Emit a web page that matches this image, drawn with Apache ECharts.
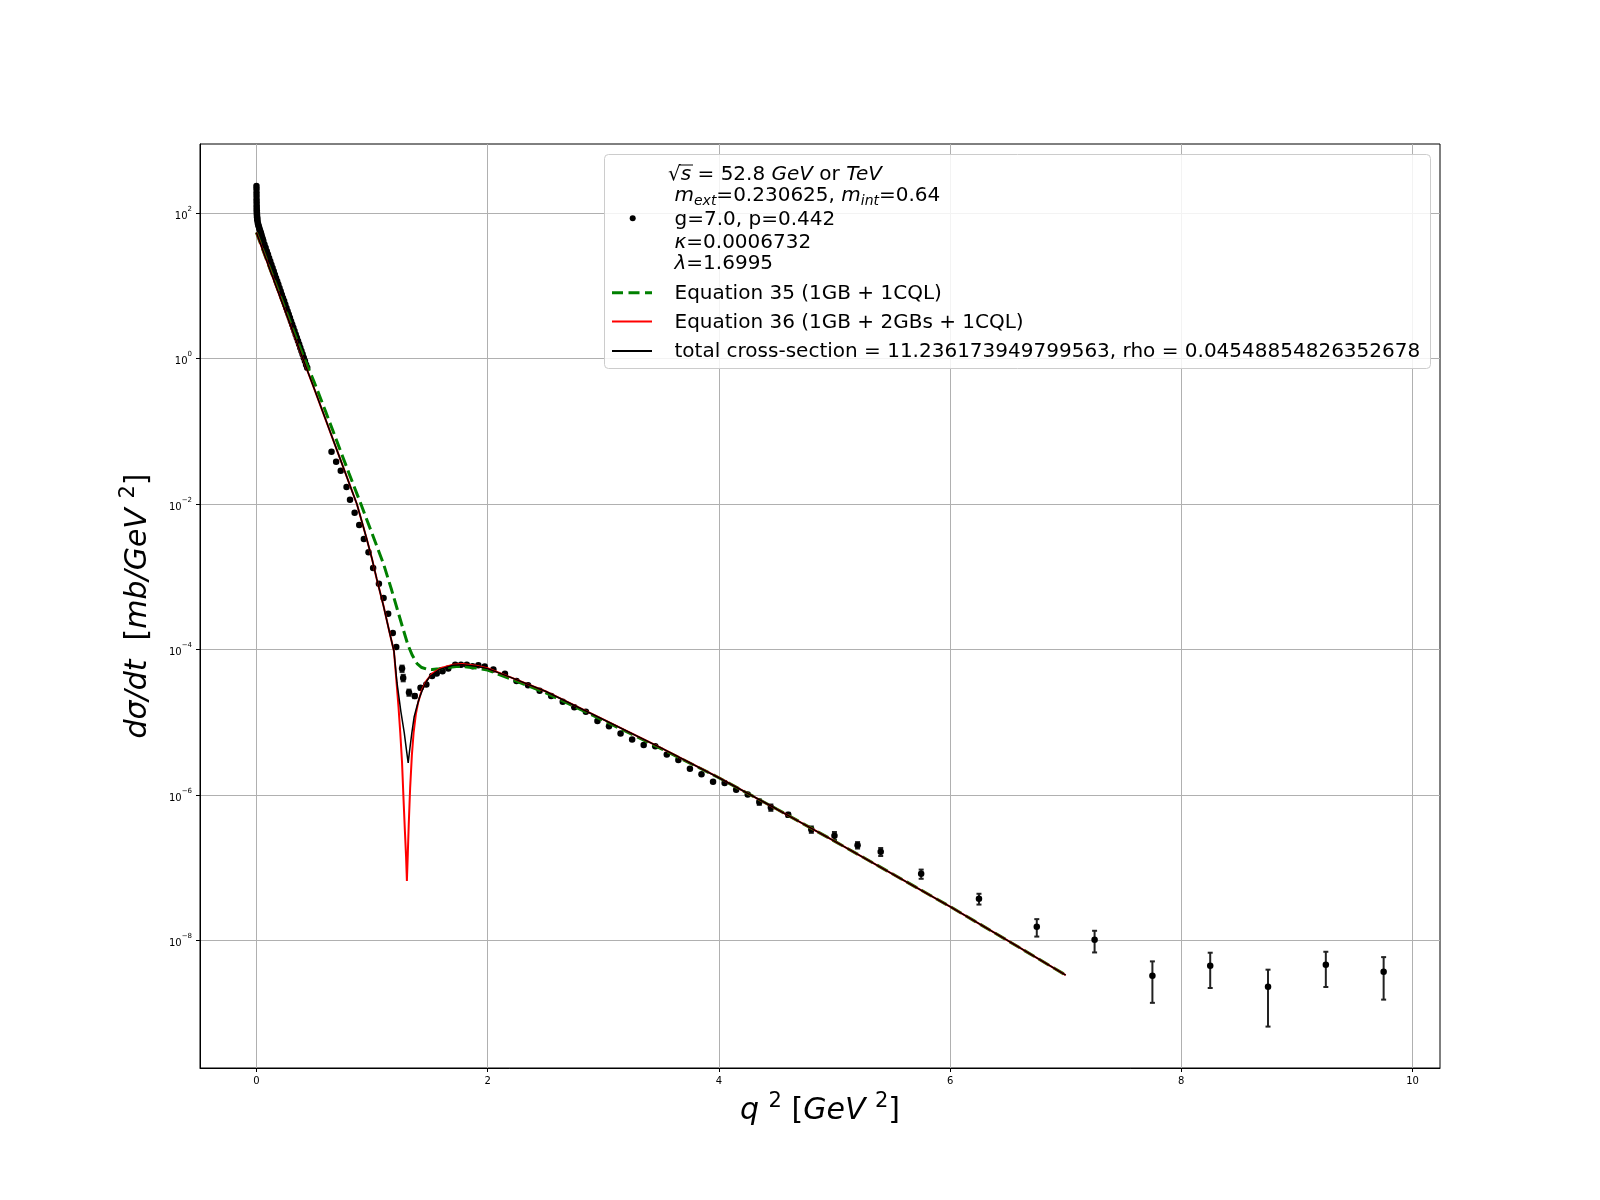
<!DOCTYPE html>
<html>
<head>
<meta charset="utf-8">
<script src="https://cdn.jsdelivr.net/npm/echarts@6/dist/echarts.min.js"></script>
<style>
  html, body { margin: 0; padding: 0; background: #fff; }
  #chart { width: 1600px; height: 1200px; }
</style>
</head>
<body>
<div id="chart"></div>
<script>
// measured points: q^2 [GeV^2] and dsigma/dt [mb/GeV^2]
const dataQ = [
  0.0009, 0.0011, 0.0013, 0.0015, 0.0018, 0.0021, 0.0025, 0.0029, 0.0034, 0.0040, 0.0047, 0.0055, 0.0064, 0.0075, 0.0088,
  0.012, 0.016, 0.020, 0.024, 0.028, 0.032, 0.036, 0.040, 0.045, 0.050, 0.055, 0.060,
  0.07, 0.08, 0.09, 0.10, 0.11, 0.12, 0.13, 0.14, 0.15, 0.16, 0.17, 0.18, 0.19, 0.20, 0.21, 0.22, 0.23, 0.24, 0.25, 0.26,
  0.27, 0.28, 0.29, 0.30, 0.31, 0.32, 0.33, 0.34, 0.35, 0.36, 0.37, 0.38, 0.39, 0.40, 0.41, 0.42, 0.43, 0.44,
  0.65, 0.69, 0.73, 0.78, 0.81, 0.85, 0.89, 0.93, 0.97, 1.01, 1.06, 1.10, 1.14, 1.18, 1.21,
  1.26, 1.27, 1.32, 1.37, 1.42, 1.47, 1.52, 1.56, 1.61, 1.66, 1.72, 1.77, 1.82, 1.87, 1.92, 1.975,
  2.05, 2.15, 2.25, 2.35, 2.45, 2.55, 2.65, 2.75, 2.85, 2.95, 3.05, 3.15, 3.25, 3.35, 3.45, 3.55, 3.65, 3.75, 3.85, 3.95,
  4.05, 4.15, 4.25, 4.35, 4.45, 4.6, 4.8, 5.0, 5.2, 5.4,
  5.75, 6.25, 6.75, 7.25, 7.75, 8.25, 8.75, 9.25, 9.75
]
const dataY = [
  237, 215, 192, 172, 155, 140, 128, 118, 110, 103, 97, 92, 88, 84, 80,
  74, 70, 66.5, 63, 60, 57.5, 55, 52.5, 49.5, 46.5, 44, 41.5,
  37.2, 33.5, 30, 27, 24.3, 21.8, 19.6, 17.7, 15.9, 14.3, 12.9, 11.6, 10.5, 9.4, 8.5, 7.6, 6.85, 6.2, 5.55, 5.0,
  4.5, 4.05, 3.65, 3.28, 2.95, 2.66, 2.40, 2.16, 1.94, 1.75, 1.58, 1.42, 1.28, 1.15, 1.03, 0.93, 0.83, 0.75,
  5.26e-2, 3.84e-2, 2.89e-2, 1.72e-2, 1.15e-2, 7.64e-3, 5.18e-3, 3.33e-3, 2.18e-3, 1.33e-3, 8.09e-4, 5.15e-4, 3.13e-4, 1.70e-4, 1.09e-4,
  5.5e-5, 4.1e-5, 2.58e-5, 2.31e-5, 2.99e-5, 3.32e-5, 4.37e-5, 4.7e-5, 5.05e-5, 5.5e-5, 6.24e-5, 6.24e-5, 6.24e-5, 5.92e-5, 6.1e-5, 5.86e-5,
  5.33e-5, 4.69e-5, 3.73e-5, 3.24e-5, 2.72e-5, 2.32e-5, 1.92e-5, 1.62e-5, 1.40e-5, 1.05e-5, 8.87e-6, 7.03e-6, 5.82e-6, 4.92e-6, 4.71e-6, 3.62e-6, 3.06e-6, 2.31e-6, 1.95e-6, 1.53e-6,
  1.47e-6, 1.19e-6, 1.02e-6, 8.07e-7, 6.78e-7, 5.38e-7, 3.38e-7, 2.77e-7, 2.06e-7, 1.67e-7,
  8.3e-8, 3.78e-8, 1.56e-8, 1.03e-8, 3.3e-9, 4.54e-9, 2.33e-9, 4.68e-9, 3.75e-9
]
// points that show an error bar, with their (symmetric) error
const errQ = [1.26, 1.27, 1.32, 1.37, 1.42, 4.35, 4.45, 4.6, 4.8, 5.0, 5.2, 5.4, 5.75, 6.25, 6.75, 7.25, 7.75, 8.25, 8.75, 9.25, 9.75]
const errSize = [5.5e-6, 4.2e-6, 2.5e-6, 1.5e-6, 1.5e-6, 7e-8, 6.8e-8, 3.5e-8, 3.4e-8, 3.5e-8, 2.1e-8, 2.1e-8, 1.2e-8, 6.4e-9, 4.2e-9, 3.4e-9, 1.9e-9, 2.3e-9, 1.67e-9, 2.37e-9, 2.2e-9]

// Equation 35 (green dashed)
const eq35Q = [0, 0.1, 0.2, 0.3, 0.4, 0.5, 0.6, 0.7, 0.8, 0.9, 1.0, 1.1, 1.17, 1.22, 1.27, 1.31, 1.35, 1.39, 1.43, 1.47, 1.52, 1.58, 1.65, 1.73, 1.8, 1.9, 2.0, 2.2, 2.5, 3.0, 3.5, 4.0, 4.5, 5.0, 5.5, 6.0, 6.5, 7.0]
const eq35Y = [54.2, 20.4, 7.76, 2.95, 1.148, 0.479, 0.186, 0.0708, 0.0269, 0.01047, 3.98e-3, 1.51e-3, 6.61e-4, 3.55e-4, 1.905e-4, 1.175e-4, 8.32e-5, 6.46e-5, 5.69e-5, 5.43e-5, 5.35e-5, 5.47e-5, 5.69e-5, 5.86e-5, 5.86e-5, 5.62e-5, 5.25e-5, 3.98e-5, 2.57e-5, 1.07e-5, 4.37e-6, 1.74e-6, 6.46e-7, 2.34e-7, 8.32e-8, 2.95e-8, 1.0e-8, 3.37e-9]

// Equation 36 (red)
const eq36Q = [0, 0.1, 0.2, 0.3, 0.4, 0.5, 0.6, 0.7, 0.8, 0.87, 0.95, 1.0, 1.04, 1.1, 1.15, 1.19, 1.21, 1.23, 1.245, 1.26, 1.273, 1.285, 1.295, 1.302, 1.31, 1.318, 1.33, 1.345, 1.36, 1.38, 1.40, 1.43, 1.47, 1.52, 1.6, 1.7, 1.78, 1.9, 2.0, 2.2, 2.5, 3.0, 3.5, 4.0, 4.5, 5.0, 5.5, 6.0, 6.5, 7.0]
const eq36Y = [54.2, 19.95, 7.41, 2.75, 1.023, 0.389, 0.1445, 0.0537, 0.01995, 0.01, 3.55e-3, 1.78e-3, 9.55e-4, 3.98e-4, 1.78e-4, 9.55e-5, 3.98e-5, 1.585e-5, 7.08e-6, 2.82e-6, 8.71e-7, 3.16e-7, 1.41e-7, 6.61e-8, 1.585e-7, 3.98e-7, 1.26e-6, 3.55e-6, 7.24e-6, 1.32e-5, 1.905e-5, 2.75e-5, 3.72e-5, 4.68e-5, 5.62e-5, 6.24e-5, 6.38e-5, 6.03e-5, 5.56e-5, 4.17e-5, 2.69e-5, 1.10e-5, 4.47e-6, 1.74e-6, 6.46e-7, 2.34e-7, 8.32e-8, 2.95e-8, 1.0e-8, 3.37e-9]

// total cross-section (black)
const totalQ = [0, 0.1, 0.2, 0.3, 0.4, 0.5, 0.6, 0.7, 0.8, 0.87, 0.95, 1.0, 1.04, 1.1, 1.15, 1.19, 1.216, 1.25, 1.279, 1.30, 1.313, 1.326, 1.345, 1.365, 1.385, 1.41, 1.437, 1.47, 1.5, 1.58, 1.7, 1.78, 1.9, 2.0, 2.2, 2.5, 3.0, 3.5, 4.0, 4.5, 5.0, 5.5, 6.0, 6.5, 7.0]
const totalY = [54.2, 19.95, 7.41, 2.75, 1.023, 0.389, 0.1445, 0.0537, 0.01995, 0.01, 3.55e-3, 1.78e-3, 9.55e-4, 3.98e-4, 1.78e-4, 9.55e-5, 3.55e-5, 1.41e-5, 7.24e-6, 3.98e-6, 2.79e-6, 4.17e-6, 7.24e-6, 1.20e-5, 1.585e-5, 2.19e-5, 2.82e-5, 3.63e-5, 4.27e-5, 5.31e-5, 6.11e-5, 6.24e-5, 5.92e-5, 5.50e-5, 4.17e-5, 2.69e-5, 1.10e-5, 4.47e-6, 1.74e-6, 6.46e-7, 2.34e-7, 8.32e-8, 2.95e-8, 1.0e-8, 3.37e-9]

const xTicks = [0, 2, 4, 6, 8, 10]
const yTicks = [1e2, 1, 1e-2, 1e-4, 1e-6, 1e-8]
const yTickExp = ['2', '0', '\u22122', '\u22124', '\u22126', '\u22128']

const FONT = '"DejaVu Sans", sans-serif'

const zip = (a, b) => a.map((v, i) => [v, b[i]])
const errData = errQ.map((q, i) => {
  const y = dataY[dataQ.indexOf(q)]
  return [q, y - errSize[i], y + errSize[i]]
})

// legend text runs, laid out with measured widths
const measureCtx = document.createElement('canvas').getContext('2d')
function textRun(x, y, parts, size) {
  const out = []
  let cx = x
  parts.forEach(p => {
    const small = p.sub || p.sup
    const fs = small ? Math.round(size * 0.7) : size
    const font = (p.it ? 'italic ' : '') + fs + 'px ' + FONT
    measureCtx.font = font
    const w = measureCtx.measureText(p.t).width
    const dy = p.sub ? size * 0.28 : (p.sup ? -size * 0.38 : 0)
    out.push({
      type: 'text', x: cx, y: y + dy, silent: true, z: 100,
      style: { text: p.t, font: font, fill: '#000', align: 'left', verticalAlign: 'middle', textAlign: 'left', textVerticalAlign: 'middle' }
    })
    cx += w
  })
  return out
}

const LX = 674.5
const legendGraphics = [
  { type: 'rect', z: 99, silent: true, shape: { x: 604.5, y: 154.5, width: 826, height: 214, r: 4 },
    style: { fill: 'rgba(255,255,255,0.85)', stroke: '#cccccc', lineWidth: 1 } },
  ...textRun(668, 174.4, [{ t: '\u221A' }, { t: 's', it: true }, { t: ' = 52.8 ' }, { t: 'GeV', it: true }, { t: ' or ' }, { t: 'TeV', it: true }], 20),
  { type: 'line', z: 100, silent: true, shape: { x1: 679, y1: 165, x2: 693, y2: 165 }, style: { stroke: '#000', lineWidth: 1 } },
  ...textRun(LX, 195.9, [{ t: 'm', it: true }, { t: 'ext', it: true, sub: true }, { t: '=0.230625, ' }, { t: 'm', it: true }, { t: 'int', it: true, sub: true }, { t: '=0.64' }], 20),
  ...textRun(LX, 219.3, [{ t: 'g=7.0, p=0.442' }], 20),
  ...textRun(LX, 242.8, [{ t: '\u03BA', it: true }, { t: '=0.0006732' }], 20),
  ...textRun(LX, 264.2, [{ t: '\u03BB', it: true }, { t: '=1.6995' }], 20),
  ...textRun(LX, 293.8, [{ t: 'Equation 35 (1GB + 1CQL)' }], 20),
  ...textRun(LX, 322.4, [{ t: 'Equation 36 (1GB + 2GBs + 1CQL)' }], 20),
  ...textRun(LX, 352, [{ t: 'total cross-section = 11.236173949799563, rho = 0.04548854826352678' }], 20),
  { type: 'circle', z: 100, silent: true, shape: { cx: 632.7, cy: 218.3, r: 3 }, style: { fill: '#000' } },
  { type: 'line', z: 100, silent: true, shape: { x1: 612, y1: 292.8, x2: 652, y2: 292.8 },
    style: { stroke: '#008000', lineWidth: 3, lineDash: [11, 5.5] } },
  { type: 'line', z: 100, silent: true, shape: { x1: 612, y1: 321.4, x2: 652, y2: 321.4 },
    style: { stroke: '#ff0000', lineWidth: 2 } },
  { type: 'line', z: 100, silent: true, shape: { x1: 612, y1: 351, x2: 652, y2: 351 },
    style: { stroke: '#000000', lineWidth: 2 } }
]

const chart = echarts.init(document.getElementById('chart'))

const option = {
  animation: false,
  backgroundColor: '#fff',
  textStyle: { fontFamily: FONT },
  grid: { left: 200, right: 160, top: 144, bottom: 132, show: true, borderColor: '#000', borderWidth: 1 },
  xAxis: {
    type: 'value',
    min: -0.4875,
    max: 10.2375,
    axisLine: { show: true, onZero: false, lineStyle: { color: '#000', width: 1 } },
    axisTick: { show: true, inside: false, length: 4, customValues: xTicks, lineStyle: { color: '#000', width: 1 } },
    axisLabel: { customValues: xTicks, fontSize: 10, color: '#000', margin: 8, fontFamily: FONT },
    splitLine: { show: true, lineStyle: { color: '#b0b0b0', width: 1 } },
    name: '{i|q} {s|2} {r|[}{i|GeV} {s|2}{r|]}',
    nameLocation: 'middle',
    nameGap: 22,
    nameTextStyle: {
      rich: {
        i: { fontSize: 30, fontStyle: 'italic', fontFamily: FONT, lineHeight: 40, color: '#000' },
        r: { fontSize: 30, fontFamily: FONT, lineHeight: 40, color: '#000' },
        s: { fontSize: 21, fontFamily: FONT, lineHeight: 21, verticalAlign: 'top', color: '#000' }
      },
      fontSize: 30, lineHeight: 40
    }
  },
  yAxis: {
    type: 'log',
    logBase: 10,
    min: 1.78e-10,
    max: 895,
    axisLine: { show: true, onZero: false, lineStyle: { color: '#000', width: 1 } },
    axisTick: { show: true, inside: false, length: 4, customValues: yTicks, lineStyle: { color: '#000', width: 1 } },
    axisLabel: {
      customValues: yTicks,
      margin: 8,
      formatter: v => {
        const i = yTicks.findIndex(t => Math.abs(Math.log10(t) - Math.log10(v)) < 1e-6)
        return i < 0 ? '' : '{b|10}{e|' + yTickExp[i] + '}'
      },
      rich: {
        b: { fontSize: 10, fontFamily: FONT, color: '#000', lineHeight: 16, verticalAlign: 'bottom' },
        e: { fontSize: 7, fontFamily: FONT, color: '#000', lineHeight: 8, verticalAlign: 'top' }
      }
    },
    splitLine: { show: true, lineStyle: { color: '#b0b0b0', width: 1 } },
    minorTick: { show: false },
    name: '{i|d\u03C3/dt}  {r|[}{i|mb/GeV} {s|2}{r|]}',
    nameLocation: 'middle',
    nameRotate: 90,
    nameGap: 34,
    nameTextStyle: {
      rich: {
        i: { fontSize: 30, fontStyle: 'italic', fontFamily: FONT, lineHeight: 40, color: '#000' },
        r: { fontSize: 30, fontFamily: FONT, lineHeight: 40, color: '#000' },
        s: { fontSize: 21, fontFamily: FONT, lineHeight: 21, verticalAlign: 'top', color: '#000' }
      },
      fontSize: 30, lineHeight: 40
    }
  },
  series: [
    {
      name: 'errors',
      type: 'custom',
      z: 2,
      silent: true,
      data: errData,
      encode: { x: 0, y: [1, 2] },
      renderItem: (params, api) => {
        const top = api.coord([api.value(0), api.value(2)])
        const bot = api.coord([api.value(0), api.value(1)])
        const st = { stroke: '#222', lineWidth: 2 }
        return {
          type: 'group',
          children: [
            { type: 'line', shape: { x1: top[0], y1: top[1], x2: bot[0], y2: bot[1] }, style: st },
            { type: 'line', shape: { x1: top[0] - 2.5, y1: top[1], x2: top[0] + 2.5, y2: top[1] }, style: st },
            { type: 'line', shape: { x1: bot[0] - 2.5, y1: bot[1], x2: bot[0] + 2.5, y2: bot[1] }, style: st }
          ]
        }
      }
    },
    {
      name: 'data',
      type: 'scatter',
      z: 3,
      silent: true,
      symbol: 'circle',
      symbolSize: 6.5,
      itemStyle: { color: '#000', opacity: 1 },
      data: zip(dataQ, dataY)
    },
    {
      name: 'Equation 35 (1GB + 1CQL)',
      type: 'line',
      z: 4,
      silent: true,
      showSymbol: false,
      symbol: 'none',
      lineStyle: { color: '#008000', width: 3, type: [12, 5] },
      data: zip(eq35Q, eq35Y)
    },
    {
      name: 'Equation 36 (1GB + 2GBs + 1CQL)',
      type: 'line',
      z: 5,
      silent: true,
      showSymbol: false,
      symbol: 'none',
      lineStyle: { color: '#ff0000', width: 2 },
      data: zip(eq36Q, eq36Y)
    },
    {
      name: 'total',
      type: 'line',
      z: 6,
      silent: true,
      showSymbol: false,
      symbol: 'none',
      lineStyle: { color: '#000000', width: 1.5 },
      data: zip(totalQ, totalY)
    }
  ],
  graphic: legendGraphics
}

chart.setOption(option)
</script>
</body>
</html>
